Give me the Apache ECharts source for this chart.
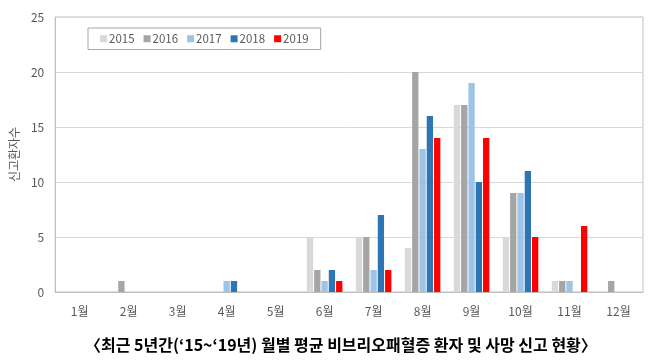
<!DOCTYPE html>
<html><head><meta charset="utf-8">
<script src="https://cdn.jsdelivr.net/npm/echarts@6/dist/echarts.min.js"></script>
<style>html,body{margin:0;padding:0;background:#fff}#c{width:653px;height:363px}</style>
</head><body><div id="c"></div>
<script>
const months = ['1월','2월','3월','4월','5월','6월','7월','8월','9월','10월','11월','12월'];
const years = ['2015','2016','2017','2018','2019'];
const v2015 = [0,0,0,0,0,5,5,4,17,5,1,0];
const v2016 = [0,1,0,0,0,2,5,20,17,9,1,1];
const v2017 = [0,0,0,1,0,1,2,13,19,9,1,0];
const v2018 = [0,0,0,1,0,2,7,16,10,11,0,0];
const v2019 = [0,0,0,0,0,1,2,14,14,5,6,0];
const colors = ['#D9D9D9','#A5A5A5','#9DC3E6','#2E75B6','#FF0000'];
const values = [v2015,v2016,v2017,v2018,v2019];
const caption = '〈최근 5년간(‘15~‘19년) 월별 평균 비브리오패혈증 환자 및 사망 신고 현황〉';

const chart = echarts.init(document.getElementById('c'));
chart.setOption({
  animation:false,
  textStyle:{fontFamily:'"Noto Sans CJK KR", "Noto Sans", sans-serif'},
  title:{text:caption,left:80,top:332,textStyle:{fontSize:16,fontWeight:'bold',color:'#000',fontFamily:'"Noto Sans CJK KR", sans-serif'}},
  legend:{
    left:88,top:28,
    padding:[5,12,5,12],
    borderColor:'#A6A6A6',borderWidth:1,
    itemWidth:7,itemHeight:7,itemGap:9,
    icon:'rect',
    textStyle:{fontSize:11.5,color:'#595959',padding:[0,0,0,-3]},
    data:years
  },
  grid:{left:55,right:10,top:17,bottom:71,show:true,borderColor:'#BFBFBF',borderWidth:1},
  xAxis:{type:'category',data:months,
    axisLine:{lineStyle:{color:'#BFBFBF'}},axisTick:{show:false},
    axisLabel:{color:'#595959',fontSize:12,margin:13}},
  yAxis:{type:'value',min:0,max:25,interval:5,
    name:'신고환자수',nameLocation:'middle',nameGap:33,
    nameTextStyle:{color:'#595959',fontSize:12},
    axisLine:{show:true,lineStyle:{color:'#BFBFBF'}},axisTick:{show:false},
    axisLabel:{color:'#595959',fontSize:12,margin:11},
    splitLine:{lineStyle:{color:'#D9D9D9'}}},
  series: years.map((y,i)=>({
    name:y,type:'bar',data:values[i],barWidth:6.3,barGap:'16%',
    itemStyle:{color:colors[i]}
  }))
});
</script></body></html>
